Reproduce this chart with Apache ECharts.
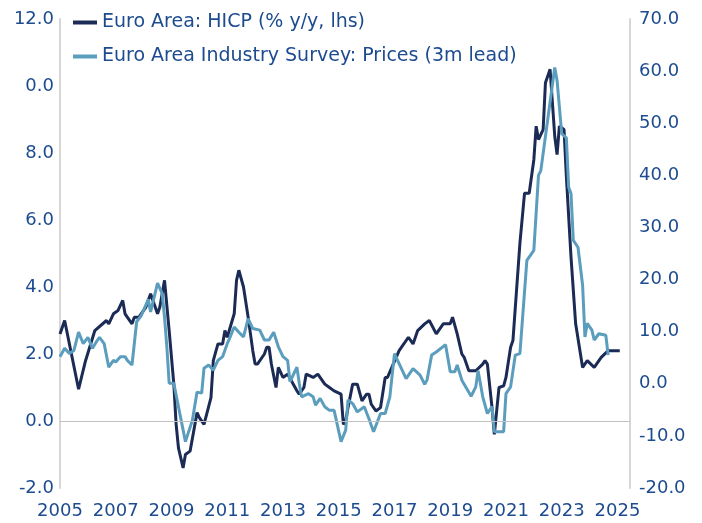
<!DOCTYPE html>
<html>
<head>
<meta charset="utf-8">
<script src="https://cdn.jsdelivr.net/npm/echarts@6/dist/echarts.min.js"></script>
<style>
  html, body { margin: 0; padding: 0; background: #fff; }
  #chart { width: 702px; height: 523px; }
</style>
</head>
<body>
<div id="chart"></div>
<script>
// Euro Area HICP (% y/y, left axis)
const hicpDates = ['2005-01','2005-03','2005-09','2005-12','2006-04','2006-09','2006-10','2006-12','2007-02','2007-04','2007-05','2007-08','2007-09','2007-11','2008-02','2008-04','2008-05','2008-07','2008-08','2008-10','2008-12','2009-02','2009-03','2009-04','2009-06','2009-07','2009-09','2009-12','2010-01','2010-03','2010-06','2010-07','2010-09','2010-11','2010-12','2011-01','2011-04','2011-05','2011-06','2011-08','2011-10','2011-12','2012-01','2012-02','2012-05','2012-06','2012-07','2012-08','2012-10','2012-11','2013-01','2013-03','2013-07','2013-08','2013-10','2013-11','2014-02','2014-04','2014-07','2014-09','2014-11','2015-02','2015-03','2015-04','2015-05','2015-07','2015-09','2015-11','2016-01','2016-02','2016-03','2016-05','2016-07','2016-09','2016-10','2017-03','2017-07','2017-09','2017-11','2018-02','2018-04','2018-07','2018-10','2019-01','2019-02','2019-04','2019-06','2019-07','2019-09','2019-10','2019-12','2020-03','2020-04','2020-05','2020-07','2020-08','2020-10','2020-12','2021-01','2021-03','2021-04','2021-07','2021-09','2021-11','2022-01','2022-02','2022-03','2022-05','2022-06','2022-07','2022-08','2022-10','2022-11','2022-12','2023-02','2023-03','2023-05','2023-07','2023-10','2023-12','2024-03','2024-06','2024-09','2025-02'];
const hicpValues = [2.6,3.0,0.95,1.8,2.7,3.0,2.9,3.2,3.3,3.6,3.2,2.9,3.1,3.1,3.4,3.8,3.6,3.2,3.4,4.2,2.7,1.1,-0.1,-0.8,-1.4,-1.0,-0.9,0.25,0.1,-0.1,0.7,1.8,2.3,2.3,2.7,2.5,3.2,4.2,4.5,4.0,3.1,2.1,1.7,1.7,2.0,2.2,2.2,1.7,1.0,1.6,1.3,1.4,0.9,0.8,1.0,1.4,1.3,1.4,1.1,1.0,0.9,0.8,-0.1,0.0,0.4,1.1,1.1,0.6,0.8,0.8,0.5,0.3,0.4,1.3,1.3,2.1,2.5,2.3,2.7,2.9,3.0,2.6,2.9,2.9,3.1,2.6,2.0,1.9,1.5,1.5,1.5,1.7,1.8,1.7,0.4,-0.4,1.0,1.05,1.3,2.2,2.4,5.3,6.8,6.8,7.8,8.8,8.4,8.7,10.1,10.3,10.5,8.5,7.95,8.8,8.7,7.3,4.9,2.9,1.6,1.8,1.6,1.9,2.1,2.1];

// Euro Area Industry Survey: Prices, shifted 3 months (right axis)
const surveyDates = ['2005-01','2005-03','2005-05','2005-07','2005-09','2005-11','2006-01','2006-03','2006-05','2006-06','2006-08','2006-10','2006-12','2007-01','2007-03','2007-05','2007-06','2007-08','2007-10','2007-12','2008-03','2008-04','2008-07','2008-09','2008-10','2008-11','2008-12','2009-02','2009-04','2009-07','2009-10','2009-12','2010-02','2010-03','2010-05','2010-07','2010-09','2010-11','2011-01','2011-02','2011-04','2011-06','2011-08','2011-10','2011-12','2012-03','2012-05','2012-07','2012-09','2012-11','2013-01','2013-03','2013-04','2013-05','2013-07','2013-08','2013-09','2013-12','2014-02','2014-03','2014-05','2014-07','2014-09','2014-11','2015-02','2015-04','2015-05','2015-07','2015-09','2015-12','2016-02','2016-04','2016-07','2016-09','2016-11','2017-01','2017-06','2017-09','2017-12','2018-02','2018-03','2018-05','2018-07','2018-11','2019-01','2019-03','2019-04','2019-06','2019-10','2019-12','2020-01','2020-03','2020-05','2020-07','2020-08','2020-12','2021-01','2021-03','2021-05','2021-07','2021-10','2022-01','2022-03','2022-04','2022-10','2022-11','2023-01','2023-03','2023-04','2023-05','2023-06','2023-08','2023-10','2023-11','2023-12','2024-02','2024-03','2024-05','2024-08','2024-09'];
const surveyValues = [5.2,6.8,5.8,6.4,9.9,7.7,8.9,6.8,8.3,8.9,7.7,3.2,4.5,4.2,5.2,5.2,4.5,3.6,11.9,13.1,16.2,13.8,19.3,17.3,12.8,7.1,0.1,0.1,-4.4,-11.1,-7.0,-1.6,-1.8,3.0,3.6,2.6,4.5,5.2,7.7,8.7,10.9,9.9,9.0,12.5,10.6,10.3,8.4,8.4,9.9,7.1,5.2,4.5,0.4,1.3,3.2,0.1,-2.5,-1.9,-2.5,-4.1,-2.8,-4.4,-5.1,-5.1,-11.1,-8.9,-3.1,-3.8,-5.4,-4.4,-6.7,-9.2,-5.7,-5.7,-2.5,5.8,1.0,2.9,1.65,-0.1,0.7,5.5,6.1,7.5,2.3,2.3,3.6,0.7,-2.4,-0.6,2.5,-2.5,-5.7,-4.4,-9.2,-9.2,-1.9,-0.6,5.5,5.8,23.7,25.6,40.0,40.9,60.7,58.2,48.0,47.2,37.7,36.5,27.5,26.2,18.9,9.0,11.6,10.3,8.4,9.6,9.3,5.5];

const hicpName = 'Euro Area: HICP (% y/y, lhs)'
const surveyName = 'Euro Area Industry Survey: Prices (3m lead)'

// 'YYYY-MM' -> decimal year
const toYear = (d) => {
    const [y, m] = d.split('-').map(Number)
    return y + (m - 1) / 12
}
const pairs = (dates, values) => dates.map((d, i) => [toYear(d), values[i]])

const labelColor = '#1d4b8f'
const font = '"DejaVu Sans", "Noto Sans", sans-serif'

const chart = echarts.init(document.getElementById('chart'))

const option = {
    animation: false,
    backgroundColor: '#fff',
    grid: { left: 60, right: 72, top: 19, bottom: 35 },
    legend: {
        orient: 'vertical',
        left: 73,
        top: 12,
        padding: 0,
        itemGap: 13,
        itemWidth: 24,
        itemHeight: 4,
        itemGap: 13,
        icon: 'rect',
        data: [hicpName, surveyName],
        textStyle: { color: labelColor, fontSize: 19, fontFamily: font, lineHeight: 21 }
    },
    xAxis: {
        type: 'value',
        min: 2005,
        max: 2025.45,
        interval: 2,
        axisLine: { show: false },
        axisTick: { show: false },
        splitLine: { show: false },
        axisLabel: {
            margin: 14,
            color: labelColor,
            fontSize: 18,
            fontFamily: font,
            formatter: (v) => (Number.isInteger(v) ? String(v) : '')
        }
    },
    yAxis: [
        {
            type: 'value',
            min: -2,
            max: 12,
            interval: 2,
            axisLine: { show: true, lineStyle: { color: '#d6d6d6', width: 2 } },
            axisTick: { show: false },
            splitLine: { show: false },
            axisLabel: {
                margin: 6,
                color: labelColor,
                fontSize: 18,
                fontFamily: font,
                // the reference shows the 10 tick as "0.0"
                formatter: (v) => (v === 10 ? '0.0' : v.toFixed(1))
            }
        },
        {
            type: 'value',
            min: -20,
            max: 70,
            interval: 10,
            position: 'right',
            axisLine: { show: true, lineStyle: { color: '#d6d6d6', width: 2 } },
            axisTick: { show: false },
            splitLine: { show: false },
            axisLabel: {
                margin: 9,
                color: labelColor,
                fontSize: 18,
                fontFamily: font,
                formatter: (v) => v.toFixed(1)
            }
        }
    ],
    series: [
        {
            name: hicpName,
            type: 'line',
            yAxisIndex: 0,
            showSymbol: false,
            symbol: 'none',
            data: pairs(hicpDates, hicpValues),
            lineStyle: { color: '#1b2b55', width: 3 },
            itemStyle: { color: '#1b2b55' },
            markLine: {
                silent: true,
                symbol: 'none',
                label: { show: false },
                lineStyle: { color: '#c2c2c2', width: 1, type: 'solid' },
                data: [{ yAxis: 0 }]
            },
            z: 3
        },
        {
            name: surveyName,
            type: 'line',
            yAxisIndex: 1,
            showSymbol: false,
            symbol: 'none',
            data: pairs(surveyDates, surveyValues),
            lineStyle: { color: '#5b9dbd', width: 3 },
            itemStyle: { color: '#5b9dbd' },
            z: 4
        }
    ]
}

chart.setOption(option)
</script>
</body>
</html>
